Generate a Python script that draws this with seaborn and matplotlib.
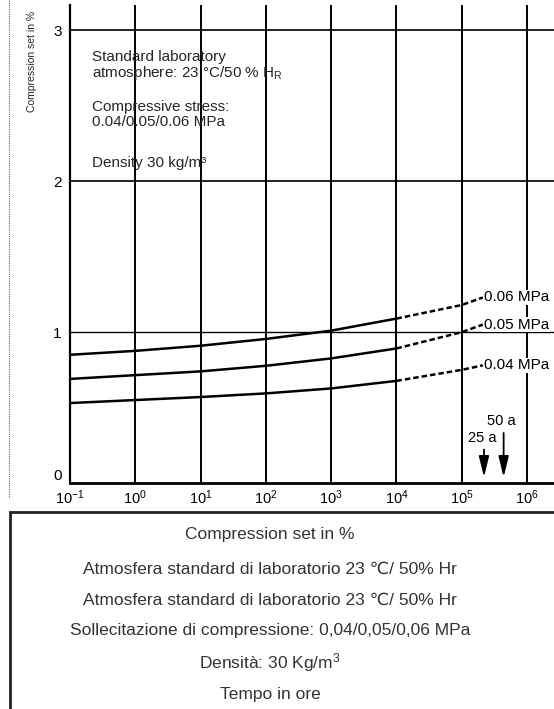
import numpy as np
import pandas as pd
import matplotlib
matplotlib.use("Agg")
import matplotlib.pyplot as plt
from matplotlib.lines import Line2D
from matplotlib.patches import Rectangle
import seaborn as sns

# ---------------- data ----------------
hours_solid = [0.1, 1, 10, 100, 1000, 10000]
hours_dash = [10000, 100000, 210000]
set_006_solid = [0.85, 0.876, 0.91, 0.955, 1.01, 1.09]
set_005_solid = [0.69, 0.715, 0.74, 0.777, 0.826, 0.892]
set_004_solid = [0.53, 0.55, 0.57, 0.594, 0.627, 0.677]
set_006_dash = [1.09, 1.18, 1.23]
set_005_dash = [0.892, 1.0, 1.05]
set_004_dash = [0.677, 0.75, 0.78]
stress_labels = ["0.06 MPa", "0.05 MPa", "0.04 MPa"]
x_ticks = [0.1, 1, 10, 100, 1000, 10000, 100000, 1000000]
x_tick_labels = ["10$^{-1}$", "10$^{0}$", "10$^{1}$", "10$^{2}$", "10$^{3}$",
                 "10$^{4}$", "10$^{5}$", "10$^{6}$"]
y_ticks = [0, 1, 2, 3]
arrow_hours = [25 * 8760, 50 * 8760]
arrow_labels = ["25 a", "50 a"]
arrow_top = [0.24, 0.35]

bottom_lines = [
    "Compression set in %",
    "Atmosfera standard di laboratorio 23 \u2103/ 50% Hr",
    "Atmosfera standard di laboratorio 23 \u2103/ 50% Hr",
    "Sollecitazione di compressione: 0,04/0,05/0,06 MPa",
    "Densit\u00e0: 30 Kg/m$^{3}$",
    "Tempo in ore",
]

# ---------------- style ----------------
sns.set_theme(style="white")
plt.rcParams["font.family"] = ["Liberation Sans", "DejaVu Sans"]
plt.rcParams["mathtext.fontset"] = "custom"
plt.rcParams["mathtext.rm"] = "Liberation Sans"
plt.rcParams["mathtext.it"] = "Liberation Sans:italic"
plt.rcParams["mathtext.bf"] = "Liberation Sans:bold"

W, H = 554, 709
fig = plt.figure(figsize=(W / 100, H / 100), dpi=100)
fig.patch.set_facecolor("white")

def fx(px):
    return px / W

def fy(py):
    return 1 - py / H

ax = fig.add_axes([fx(70), fy(483), fx(484), (483 - 5) / H])
ax.set_facecolor("white")

rows = []
for lab, s, d in zip(stress_labels,
                     [set_006_solid, set_005_solid, set_004_solid],
                     [set_006_dash, set_005_dash, set_004_dash]):
    for h, v in zip(hours_solid, s):
        rows.append(dict(hours=h, cset=v, stress=lab, part="solid"))
    for h, v in zip(hours_dash, d):
        rows.append(dict(hours=h, cset=v, stress=lab, part="dash"))
df = pd.DataFrame(rows)

pal = {lab: "black" for lab in stress_labels}
sns.lineplot(data=df[df.part == "solid"], x="hours", y="cset", hue="stress",
             palette=pal, legend=False, ax=ax, lw=1.8, sort=True,
             estimator=None)
sns.lineplot(data=df[df.part == "dash"], x="hours", y="cset", hue="stress",
             palette=pal, legend=False, ax=ax, lw=1.8, sort=True,
             estimator=None, dashes=False)
for ln in ax.lines[3:]:
    ln.set_dashes([2.2, 1.2])

ax.set_xscale("log")
ax.set_xlim(0.1, 10 ** 6.413)
ax.set_ylim(0, 3.169)
ax.set_xticks(x_ticks)
ax.set_xticklabels(x_tick_labels, fontsize=10.5)
ax.xaxis.set_minor_locator(matplotlib.ticker.NullLocator())
ax.set_yticks(y_ticks)
ax.set_yticklabels([str(t) for t in y_ticks], fontsize=11)
ax.tick_params(axis="both", length=0, colors="black")
ax.tick_params(axis="x", pad=4)
ax.tick_params(axis="y", pad=6)
ax.get_yticklabels()[0].set_va("bottom")
ax.set_xlabel("")
ax.set_ylabel("")

for xt in x_ticks[1:]:
    ax.axvline(xt, color="black", lw=1.4, zorder=1)
for yt in y_ticks[1:]:
    ax.axhline(yt, color="black", lw=1.2 if yt > 1 else 1.0, zorder=1)

for side in ["top", "right"]:
    ax.spines[side].set_visible(False)
ax.spines["left"].set_color("black")
ax.spines["left"].set_linewidth(1.6)
ax.spines["bottom"].set_color("black")
ax.spines["bottom"].set_linewidth(2.0)

# curve labels
for lab, d in zip(stress_labels, [set_006_dash, set_005_dash, set_004_dash]):
    ax.text(hours_dash[-1] * 1.05, d[-1], lab, fontsize=11, va="center",
            ha="left", color="black", zorder=5,
            bbox=dict(facecolor="white", edgecolor="none", pad=0.5))

# arrows
for h, lab, top in zip(arrow_hours, arrow_labels, arrow_top):
    ax.annotate("", xy=(h, 0.02), xytext=(h, top),
                arrowprops=dict(arrowstyle="-|>,head_width=0.22,head_length=0.9",
                                color="black", lw=1.3, mutation_scale=14))
    ax.text(h * 0.93, top + 0.06, lab, fontsize=10.5, ha="center",
            va="center", color="black")

# annotations inside the plot
fig.text(fx(92), fy(57), "Standard laboratory", fontsize=11, va="center")
fig.text(fx(92), fy(73), "atmosphere: 23 \u00b0C/50 % H$_\\mathregular{R}$",
         fontsize=11, va="center")
fig.text(fx(92), fy(107), "Compressive stress:", fontsize=11, va="center")
fig.text(fx(92), fy(122), "0.04/0.05/0.06 MPa", fontsize=11, va="center")
fig.text(fx(92), fy(163), "Density 30 kg/m\u00b3", fontsize=11, va="center")

fig.text(fx(32), fy(61), "Compression set in %", fontsize=7.5, rotation=90,
         ha="center", va="center")

# scan border on the left
fig.add_artist(Line2D([fx(9), fx(9)], [fy(0), fy(498)], color="#666666",
                      lw=0.8, ls=(0, (1, 1))))

# bottom text box
fig.add_artist(Rectangle((fx(10), fy(760)), fx(600), (760 - 512) / H,
                         facecolor="none", edgecolor="#222222", lw=2,
                         transform=fig.transFigure))
ys = [534, 569, 600, 631, 663, 694]
for t, yy in zip(bottom_lines, ys):
    fig.text(fx(270), fy(yy), t, fontsize=12.5, ha="center", va="center",
             color="#333333")

fig.savefig("out.png", dpi=100)
